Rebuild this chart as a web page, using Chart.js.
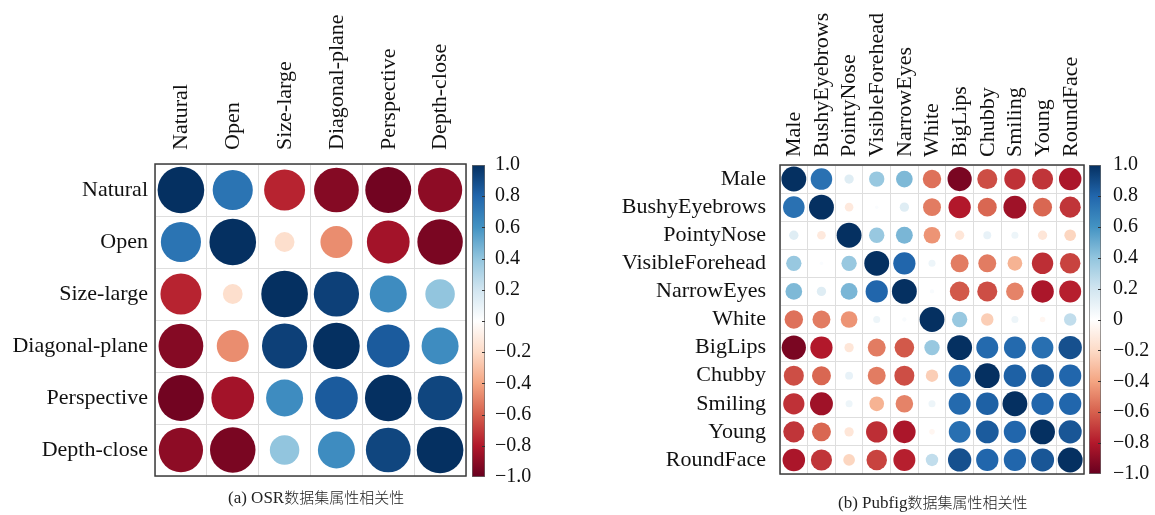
<!DOCTYPE html>
<html>
<head>
<meta charset="utf-8">
<script src="https://cdn.jsdelivr.net/npm/chart.js@4.4.1/dist/chart.umd.min.js"></script>
<style>
  html, body { margin: 0; padding: 0; background: #fff; }
  body { width: 1155px; height: 515px; position: relative; overflow: hidden; }
  canvas { position: absolute; left: 0; top: 0; }
  .cap { position: absolute; white-space: nowrap; color: #222;
         font-family: "Liberation Serif", serif; font-size: 17px; line-height: 20px; }
  .cap .cjk { font-family: "Noto Sans CJK SC", sans-serif; font-size: 15px; font-weight: 300; }
</style>
</head>
<body>
<canvas id="osrMatrix" width="1155" height="515"></canvas>
<canvas id="osrBar" width="1155" height="515"></canvas>
<canvas id="pubMatrix" width="1155" height="515"></canvas>
<canvas id="pubBar" width="1155" height="515"></canvas>
<div class="cap" style="left:228px; top:487px;">(a) OSR<span class="cjk">数据集属性相关性</span></div>
<div class="cap" style="left:838px; top:492px;">(b) Pubfig<span class="cjk">数据集属性相关性</span></div>

<script>
// ---- OSR scene attributes ----
const osrAttrs = ['Natural', 'Open', 'Size-large', 'Diagonal-plane', 'Perspective', 'Depth-close'];
const osrCorr = [
  [ 1.00,  0.74, -0.77, -0.92, -0.97, -0.90],
  [ 0.74,  1.00, -0.18, -0.47, -0.84, -0.95],
  [-0.77, -0.18,  1.00,  0.94,  0.63,  0.40],
  [-0.92, -0.47,  0.94,  1.00,  0.84,  0.63],
  [-0.97, -0.84,  0.63,  0.84,  1.00,  0.92],
  [-0.90, -0.95,  0.40,  0.63,  0.92,  1.00]
];

// ---- PubFig face attributes ----
const pubAttrs = ['Male', 'BushyEyebrows', 'PointyNose', 'VisibleForehead', 'NarrowEyes', 'White',
                  'BigLips', 'Chubby', 'Smiling', 'Young', 'RoundFace'];
const pubCorr = [
  [ 1.00,  0.75,  0.14,  0.38,  0.45, -0.55, -0.95, -0.65, -0.73, -0.72, -0.82],
  [ 0.75,  1.00, -0.12,  0.02,  0.14, -0.52, -0.80, -0.58, -0.85, -0.58, -0.72],
  [ 0.14, -0.12,  1.00,  0.38,  0.46, -0.45, -0.14,  0.10,  0.08, -0.14, -0.22],
  [ 0.38,  0.02,  0.38,  1.00,  0.80,  0.08, -0.52, -0.52, -0.35, -0.74, -0.68],
  [ 0.45,  0.14,  0.46,  0.80,  1.00,  0.03, -0.62, -0.65, -0.50, -0.82, -0.78],
  [-0.55, -0.52, -0.45,  0.08,  0.03,  1.00,  0.38, -0.25,  0.08, -0.05,  0.25],
  [-0.95, -0.80, -0.14, -0.52, -0.62,  0.38,  1.00,  0.78,  0.78,  0.76,  0.88],
  [-0.65, -0.58,  0.10, -0.52, -0.65, -0.25,  0.78,  1.00,  0.82,  0.84,  0.80],
  [-0.73, -0.85,  0.08, -0.35, -0.50,  0.08,  0.78,  0.82,  1.00,  0.80,  0.80],
  [-0.72, -0.58, -0.14, -0.74, -0.82, -0.05,  0.76,  0.84,  0.80,  1.00,  0.86],
  [-0.82, -0.72, -0.22, -0.68, -0.78,  0.25,  0.88,  0.80,  0.80,  0.86,  1.00]
];

// colour bar ticks
const barTicks = [1.0, 0.8, 0.6, 0.4, 0.2, 0, -0.2, -0.4, -0.6, -0.8, -1.0];

// diverging red-white-blue palette, evenly spaced from -1 to 1
const palette = ['#67001F', '#B2182B', '#D6604D', '#F4A582', '#FDDBC7', '#FFFFFF',
                 '#D1E5F0', '#92C5DE', '#4393C3', '#2166AC', '#053061'];

const SERIF = '"Liberation Serif", "Times New Roman", serif';

function hexToRgb(h) {
  return [parseInt(h.slice(1, 3), 16), parseInt(h.slice(3, 5), 16), parseInt(h.slice(5, 7), 16)];
}
function corrColor(v) {
  const t = (Math.max(-1, Math.min(1, v)) + 1) / 2 * (palette.length - 1);
  const i = Math.min(Math.floor(t), palette.length - 2);
  const f = t - i;
  const a = hexToRgb(palette[i]), b = hexToRgb(palette[i + 1]);
  const c = a.map((x, k) => Math.round(x + (b[k] - x) * f));
  return `rgb(${c[0]},${c[1]},${c[2]})`;
}
function fmtTick(v) {
  if (Math.abs(v) < 1e-9) return '0';
  const s = Math.abs(v).toFixed(1);
  return v < 0 ? '\u2212' + s : s;
}

// dark frame round the plotting area
const framePlugin = {
  id: 'frame',
  afterDraw(chart, args, opts) {
    const a = chart.chartArea, ctx = chart.ctx;
    ctx.save();
    ctx.strokeStyle = opts.color || '#333';
    ctx.lineWidth = opts.width || 1.5;
    ctx.strokeRect(a.left, a.top, a.right - a.left, a.bottom - a.top);
    ctx.restore();
  }
};

// short tick marks on the inside edge of a colour bar
const barTickPlugin = {
  id: 'barTicks',
  afterDraw(chart) {
    const y = chart.scales.y, a = chart.chartArea, ctx = chart.ctx;
    ctx.save();
    ctx.strokeStyle = '#333';
    ctx.lineWidth = 1;
    barTicks.forEach(v => {
      if (Math.abs(v) === 1) return;
      const p = Math.round(y.getPixelForValue(v)) + 0.5;
      ctx.beginPath();
      ctx.moveTo(a.right - 3, p);
      ctx.lineTo(a.right, p);
      ctx.stroke();
    });
    ctx.restore();
  }
};

function matrixChart(id, attrs, corr, cfg) {
  // one point per cell: column label, row label and the coefficient
  const points = [];
  corr.forEach((row, i) => row.forEach((v, j) => points.push({ x: attrs[j], y: attrs[i], v })));
  const cellSize = chart => {
    const xs = chart.scales.x, ys = chart.scales.y;
    return Math.min(xs.width, ys.height) / attrs.length;
  };
  const valueOf = ctx => (ctx.raw && typeof ctx.raw.v === 'number') ? ctx.raw.v : 0;
  return new Chart(document.getElementById(id), {
    type: 'scatter',
    data: {
      datasets: [{
        data: points,
        showLine: false,
        pointStyle: 'circle',
        pointBackgroundColor: ctx => corrColor(valueOf(ctx)),
        pointBorderWidth: 0,
        pointBorderColor: 'rgba(0,0,0,0)',
        // circle area grows with |r|, so the radius follows its square root
        pointRadius: ctx => 0.45 * cellSize(ctx.chart) * Math.sqrt(Math.abs(valueOf(ctx))),
        pointHoverRadius: ctx => 0.45 * cellSize(ctx.chart) * Math.sqrt(Math.abs(valueOf(ctx)))
      }]
    },
    plugins: [framePlugin],
    options: {
      responsive: false,
      devicePixelRatio: 1,
      animation: false,
      events: [],
      layout: { padding: cfg.padding },
      plugins: { legend: { display: false }, tooltip: { enabled: false },
                 frame: { color: '#3c3c3c', width: 1.5 } },
      scales: {
        x: {
          type: 'category', labels: attrs, position: 'top', offset: true,
          grid: { offset: true, color: '#dedede', lineWidth: 1, drawTicks: false },
          border: { display: false },
          ticks: { autoSkip: false, minRotation: 90, maxRotation: 90, padding: cfg.xPad,
                   labelOffset: 27, color: '#111', font: { family: SERIF, size: cfg.font } },
          afterFit: s => { s.height = cfg.xHeight; }
        },
        y: {
          type: 'category', labels: attrs, position: 'left', offset: true,
          grid: { offset: true, color: '#dedede', lineWidth: 1, drawTicks: false },
          border: { display: false },
          ticks: { autoSkip: false, padding: cfg.yPad,
                   color: '#111', font: { family: SERIF, size: cfg.font } },
          afterFit: s => { s.width = cfg.yWidth; }
        }
      }
    }
  });
}

function colourBar(id, cfg) {
  return new Chart(document.getElementById(id), {
    type: 'bar',
    data: {
      labels: ['r'],
      datasets: [{
        data: [[-1, 1]],
        backgroundColor: ctx => {
          const a = ctx.chart.chartArea;
          if (!a) return '#fff';
          const g = ctx.chart.ctx.createLinearGradient(0, a.bottom, 0, a.top);
          palette.forEach((c, i) => g.addColorStop(i / (palette.length - 1), c));
          return g;
        },
        borderColor: '#6a6a6a',
        borderWidth: 1,
        borderSkipped: false,
        barPercentage: 1,
        categoryPercentage: 1
      }]
    },
    plugins: [barTickPlugin],
    options: {
      responsive: false,
      devicePixelRatio: 1,
      animation: false,
      events: [],
      layout: { padding: cfg.padding },
      plugins: { legend: { display: false }, tooltip: { enabled: false } },
      scales: {
        x: { display: false },
        y: {
          position: 'right', min: -1, max: 1,
          afterBuildTicks: s => { s.ticks = barTicks.map(v => ({ value: v })); },
          grid: { display: false, drawTicks: false },
          border: { display: false },
          ticks: { padding: cfg.tickPad, color: '#111', callback: v => fmtTick(v),
                   font: { family: SERIF, size: 20 } },
          afterFit: s => { s.width = cfg.axisWidth; }
        }
      }
    }
  });
}

matrixChart('osrMatrix', osrAttrs, osrCorr, {
  padding: { left: 0, top: 0, right: 1155 - 466, bottom: 515 - 476 },
  yWidth: 155, xHeight: 164, xPad: 14, yPad: 7, font: 22
});
colourBar('osrBar', {
  padding: { left: 472, top: 165, right: 1155 - 485 - 60, bottom: 515 - 477 },
  axisWidth: 60, tickPad: 10
});

matrixChart('pubMatrix', pubAttrs, pubCorr, {
  padding: { left: 560, top: 0, right: 1155 - 1084, bottom: 515 - 474 },
  yWidth: 220, xHeight: 165, xPad: 8, yPad: 14, font: 22
});
colourBar('pubBar', {
  padding: { left: 1089, top: 165, right: 1155 - 1101 - 50, bottom: 515 - 474 },
  axisWidth: 50, tickPad: 12
});
</script>
</body>
</html>
